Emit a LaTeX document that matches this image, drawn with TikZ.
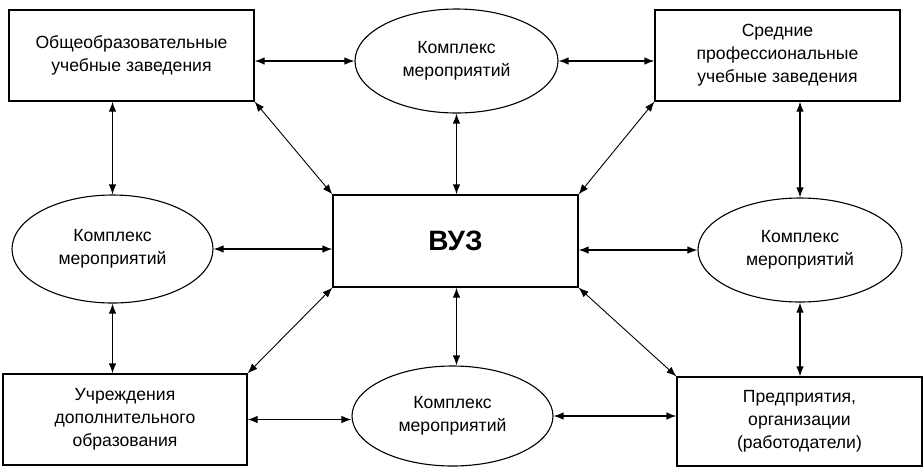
\documentclass[tikz,border=0pt]{standalone}
\usepackage{fontspec}
\setmainfont{Liberation Sans}
\usetikzlibrary{arrows.meta,shapes.geometric}
\begin{document}
\begin{tikzpicture}[x=1pt,y=-1pt,
  boxnode/.style={draw,line width=1.2pt,rectangle,inner sep=0pt,align=center,
    font=\fontsize{17.6}{23}\selectfont},
  ellnode/.style={draw,line width=1.1pt,ellipse,inner sep=0pt,align=center,
    font=\fontsize{17.6}{23}\selectfont},
  link/.style={line width=1.2pt,{Latex[length=10pt,width=7.5pt]}-{Latex[length=10pt,width=7.5pt]}},
  diag/.style={line width=0.9pt,{Latex[length=10pt,width=7.5pt]}-{Latex[length=10pt,width=7.5pt]}}]
\useasboundingbox (0,0) rectangle (924,475);
\fill[white] (0,0) rectangle (924,475);
% boxes
\node[boxnode,minimum width=245pt,minimum height=91pt] (tl) at (131.5,55.5) {Общеобразовательные\\учебные заведения};
\node[boxnode,minimum width=245pt,minimum height=91pt] (tr) at (777.5,55.5) {Средние\\профессиональные\\учебные заведения};
\node[boxnode,minimum width=244pt,minimum height=91pt] (bl) at (125,419.5) {Учреждения\\дополнительного\\образования};
\node[boxnode,minimum width=245pt,minimum height=89pt] (br) at (799.5,421.5) {Предприятия,\\организации\\(работодатели)};
\node[boxnode,minimum width=245pt,minimum height=92pt,font=\fontsize{28}{30}\bfseries\selectfont] (vuz) at (455.5,241) {ВУЗ};
% ellipses
\node[ellnode,minimum width=203pt,minimum height=104pt] (te) at (456.5,61) {Комплекс\\мероприятий};
\node[ellnode,minimum width=201pt,minimum height=108pt] (le) at (112.5,249) {Комплекс\\мероприятий};
\node[ellnode,minimum width=204pt,minimum height=104pt] (re) at (800,250) {Комплекс\\мероприятий};
\node[ellnode,minimum width=201pt,minimum height=100pt] (be) at (452.5,416) {Комплекс\\мероприятий};
% horizontal connectors
\draw[link] (tl.east |- te.west) -- (te.west);
\draw[link] (te.east) -- (tr.west |- te.east);
\draw[link] (le.east) -- (vuz.west |- le.east);
\draw[link] (vuz.east |- re.west) -- (re.west);
\draw[link] (bl.east) -- (be.west |- bl.east);
\draw[link] (be.east) -- (br.west |- be.east);
% vertical connectors
\draw[link] (tl.south -| le.north) -- (le.north);
\draw[link] (le.south) -- (bl.north -| le.south);
\draw[link] (tr.south -| re.north) -- (re.north);
\draw[link] (re.south) -- (br.north -| re.south);
\draw[link] (te.south) -- (vuz.north -| te.south);
\draw[link] (vuz.south -| te.south) -- (be.north -| te.south);
% diagonal connectors
\draw[diag] (tl.south east) -- (vuz.north west);
\draw[diag] (tr.south west) -- (vuz.north east);
\draw[diag] (bl.north east) -- (vuz.south west);
\draw[diag] (br.north west) -- (vuz.south east);
\end{tikzpicture}
\end{document}
